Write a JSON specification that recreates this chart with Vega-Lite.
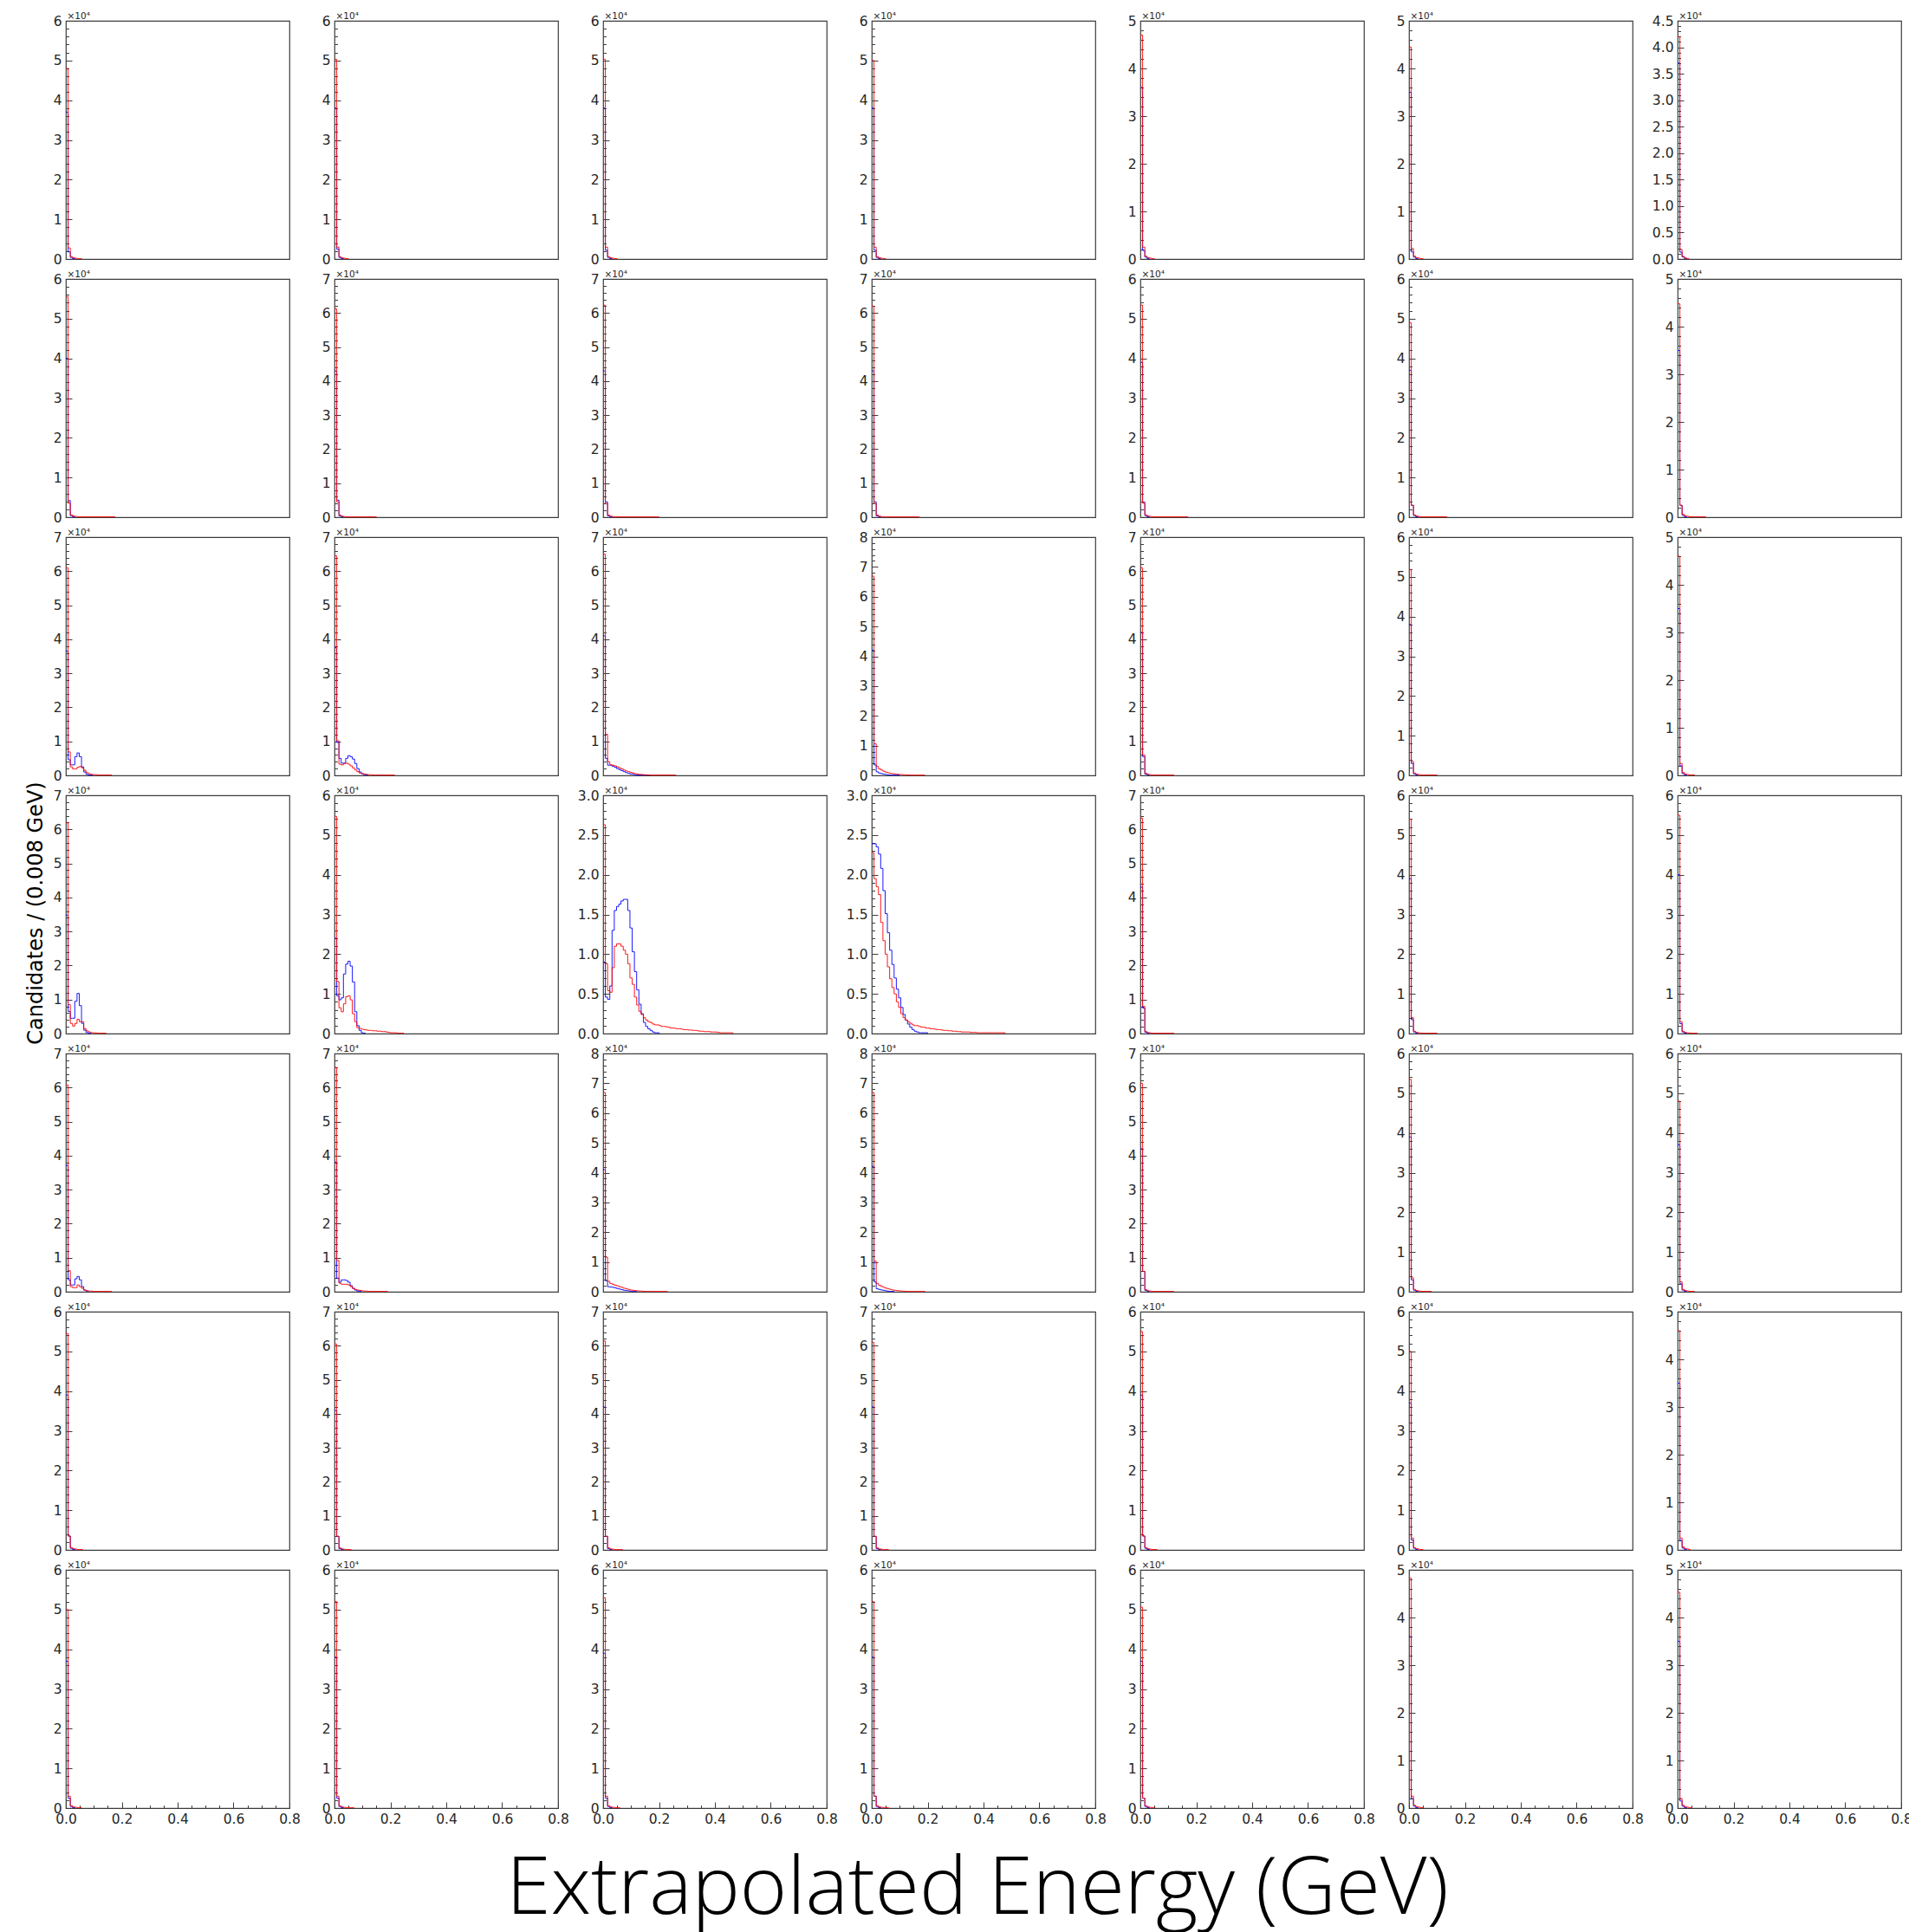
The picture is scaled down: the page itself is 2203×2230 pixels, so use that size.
{
"$schema":"https://vega.github.io/schema/vega-lite/v6.json",
"background":"white",
"padding":{"left":29,"top":12,"right":5,"bottom":5},
"data":{"values":[
{"r":1,"c":1,"s":"m","x":0,"y":6},
{"r":1,"c":1,"s":"b","x":0,"y":3.7},{"r":1,"c":1,"s":"b","x":0.008,"y":0.18},{"r":1,"c":1,"s":"b","x":0.016,"y":0.04},{"r":1,"c":1,"s":"b","x":0.024,"y":0.01},{"r":1,"c":1,"s":"b","x":0.032,"y":0},
{"r":1,"c":1,"s":"r","x":0,"y":4.8},{"r":1,"c":1,"s":"r","x":0.008,"y":0.28},{"r":1,"c":1,"s":"r","x":0.016,"y":0.06},{"r":1,"c":1,"s":"r","x":0.024,"y":0.03},{"r":1,"c":1,"s":"r","x":0.032,"y":0.02},{"r":1,"c":1,"s":"r","x":0.04,"y":0.01},{"r":1,"c":1,"s":"r","x":0.056,"y":0},
{"r":1,"c":2,"s":"m","x":0,"y":6},
{"r":1,"c":2,"s":"b","x":0,"y":3.8},{"r":1,"c":2,"s":"b","x":0.008,"y":0.25},{"r":1,"c":2,"s":"b","x":0.016,"y":0.04},{"r":1,"c":2,"s":"b","x":0.024,"y":0.01},{"r":1,"c":2,"s":"b","x":0.032,"y":0},
{"r":1,"c":2,"s":"r","x":0,"y":5.03},{"r":1,"c":2,"s":"r","x":0.008,"y":0.3},{"r":1,"c":2,"s":"r","x":0.016,"y":0.06},{"r":1,"c":2,"s":"r","x":0.024,"y":0.03},{"r":1,"c":2,"s":"r","x":0.032,"y":0.02},{"r":1,"c":2,"s":"r","x":0.04,"y":0.01},{"r":1,"c":2,"s":"r","x":0.05,"y":0},
{"r":1,"c":3,"s":"m","x":0,"y":6},
{"r":1,"c":3,"s":"b","x":0,"y":3.8},{"r":1,"c":3,"s":"b","x":0.008,"y":0.22},{"r":1,"c":3,"s":"b","x":0.016,"y":0.04},{"r":1,"c":3,"s":"b","x":0.024,"y":0.01},{"r":1,"c":3,"s":"b","x":0.032,"y":0},
{"r":1,"c":3,"s":"r","x":0,"y":5.03},{"r":1,"c":3,"s":"r","x":0.008,"y":0.3},{"r":1,"c":3,"s":"r","x":0.016,"y":0.06},{"r":1,"c":3,"s":"r","x":0.024,"y":0.03},{"r":1,"c":3,"s":"r","x":0.032,"y":0.02},{"r":1,"c":3,"s":"r","x":0.04,"y":0.01},{"r":1,"c":3,"s":"r","x":0.05,"y":0},
{"r":1,"c":4,"s":"m","x":0,"y":6},
{"r":1,"c":4,"s":"b","x":0,"y":3.8},{"r":1,"c":4,"s":"b","x":0.008,"y":0.22},{"r":1,"c":4,"s":"b","x":0.016,"y":0.04},{"r":1,"c":4,"s":"b","x":0.024,"y":0.01},{"r":1,"c":4,"s":"b","x":0.032,"y":0},
{"r":1,"c":4,"s":"r","x":0,"y":5.0},{"r":1,"c":4,"s":"r","x":0.008,"y":0.3},{"r":1,"c":4,"s":"r","x":0.016,"y":0.06},{"r":1,"c":4,"s":"r","x":0.024,"y":0.03},{"r":1,"c":4,"s":"r","x":0.032,"y":0.02},{"r":1,"c":4,"s":"r","x":0.04,"y":0.01},{"r":1,"c":4,"s":"r","x":0.05,"y":0},
{"r":1,"c":5,"s":"m","x":0,"y":5},
{"r":1,"c":5,"s":"b","x":0,"y":3.6},{"r":1,"c":5,"s":"b","x":0.008,"y":0.18},{"r":1,"c":5,"s":"b","x":0.016,"y":0.04},{"r":1,"c":5,"s":"b","x":0.024,"y":0.01},{"r":1,"c":5,"s":"b","x":0.032,"y":0},
{"r":1,"c":5,"s":"r","x":0,"y":4.7},{"r":1,"c":5,"s":"r","x":0.008,"y":0.25},{"r":1,"c":5,"s":"r","x":0.016,"y":0.06},{"r":1,"c":5,"s":"r","x":0.024,"y":0.03},{"r":1,"c":5,"s":"r","x":0.032,"y":0.02},{"r":1,"c":5,"s":"r","x":0.04,"y":0.01},{"r":1,"c":5,"s":"r","x":0.05,"y":0},
{"r":1,"c":6,"s":"m","x":0,"y":5},
{"r":1,"c":6,"s":"b","x":0,"y":3.5},{"r":1,"c":6,"s":"b","x":0.008,"y":0.15},{"r":1,"c":6,"s":"b","x":0.016,"y":0.04},{"r":1,"c":6,"s":"b","x":0.024,"y":0.01},{"r":1,"c":6,"s":"b","x":0.032,"y":0},
{"r":1,"c":6,"s":"r","x":0,"y":4.45},{"r":1,"c":6,"s":"r","x":0.008,"y":0.22},{"r":1,"c":6,"s":"r","x":0.016,"y":0.06},{"r":1,"c":6,"s":"r","x":0.024,"y":0.03},{"r":1,"c":6,"s":"r","x":0.032,"y":0.02},{"r":1,"c":6,"s":"r","x":0.04,"y":0.01},{"r":1,"c":6,"s":"r","x":0.05,"y":0},
{"r":1,"c":7,"s":"m","x":0,"y":4.5},
{"r":1,"c":7,"s":"b","x":0,"y":3.7},{"r":1,"c":7,"s":"b","x":0.008,"y":0.13},{"r":1,"c":7,"s":"b","x":0.016,"y":0.04},{"r":1,"c":7,"s":"b","x":0.024,"y":0.01},{"r":1,"c":7,"s":"b","x":0.032,"y":0},
{"r":1,"c":7,"s":"r","x":0,"y":4.2},{"r":1,"c":7,"s":"r","x":0.008,"y":0.18},{"r":1,"c":7,"s":"r","x":0.016,"y":0.05},{"r":1,"c":7,"s":"r","x":0.024,"y":0.02},{"r":1,"c":7,"s":"r","x":0.032,"y":0.01},{"r":1,"c":7,"s":"r","x":0.04,"y":0},
{"r":2,"c":1,"s":"m","x":0,"y":6},
{"r":2,"c":1,"s":"b","x":0,"y":4.0},{"r":2,"c":1,"s":"b","x":0.008,"y":0.42},{"r":2,"c":1,"s":"b","x":0.016,"y":0.04},{"r":2,"c":1,"s":"b","x":0.024,"y":0.01},{"r":2,"c":1,"s":"b","x":0.032,"y":0},
{"r":2,"c":1,"s":"r","x":0,"y":5.56},{"r":2,"c":1,"s":"r","x":0.008,"y":0.35},{"r":2,"c":1,"s":"r","x":0.016,"y":0.06},{"r":2,"c":1,"s":"r","x":0.024,"y":0.03},{"r":2,"c":1,"s":"r","x":0.032,"y":0.02},{"r":2,"c":1,"s":"r","x":0.04,"y":0.01},{"r":2,"c":1,"s":"r","x":0.176,"y":0},
{"r":2,"c":2,"s":"m","x":0,"y":7},
{"r":2,"c":2,"s":"b","x":0,"y":4.3},{"r":2,"c":2,"s":"b","x":0.008,"y":0.5},{"r":2,"c":2,"s":"b","x":0.016,"y":0.04},{"r":2,"c":2,"s":"b","x":0.024,"y":0.01},{"r":2,"c":2,"s":"b","x":0.032,"y":0},
{"r":2,"c":2,"s":"r","x":0,"y":6.12},{"r":2,"c":2,"s":"r","x":0.008,"y":0.45},{"r":2,"c":2,"s":"r","x":0.016,"y":0.06},{"r":2,"c":2,"s":"r","x":0.024,"y":0.03},{"r":2,"c":2,"s":"r","x":0.032,"y":0.02},{"r":2,"c":2,"s":"r","x":0.04,"y":0.01},{"r":2,"c":2,"s":"r","x":0.15,"y":0},
{"r":2,"c":3,"s":"m","x":0,"y":7},
{"r":2,"c":3,"s":"b","x":0,"y":4.3},{"r":2,"c":3,"s":"b","x":0.008,"y":0.45},{"r":2,"c":3,"s":"b","x":0.016,"y":0.04},{"r":2,"c":3,"s":"b","x":0.024,"y":0.01},{"r":2,"c":3,"s":"b","x":0.032,"y":0},
{"r":2,"c":3,"s":"r","x":0,"y":6.23},{"r":2,"c":3,"s":"r","x":0.008,"y":0.4},{"r":2,"c":3,"s":"r","x":0.016,"y":0.06},{"r":2,"c":3,"s":"r","x":0.024,"y":0.03},{"r":2,"c":3,"s":"r","x":0.032,"y":0.02},{"r":2,"c":3,"s":"r","x":0.04,"y":0.01},{"r":2,"c":3,"s":"r","x":0.2,"y":0},
{"r":2,"c":4,"s":"m","x":0,"y":7},
{"r":2,"c":4,"s":"b","x":0,"y":4.3},{"r":2,"c":4,"s":"b","x":0.008,"y":0.45},{"r":2,"c":4,"s":"b","x":0.016,"y":0.04},{"r":2,"c":4,"s":"b","x":0.024,"y":0.01},{"r":2,"c":4,"s":"b","x":0.032,"y":0},
{"r":2,"c":4,"s":"r","x":0,"y":6.2},{"r":2,"c":4,"s":"r","x":0.008,"y":0.4},{"r":2,"c":4,"s":"r","x":0.016,"y":0.06},{"r":2,"c":4,"s":"r","x":0.024,"y":0.03},{"r":2,"c":4,"s":"r","x":0.032,"y":0.02},{"r":2,"c":4,"s":"r","x":0.04,"y":0.01},{"r":2,"c":4,"s":"r","x":0.17,"y":0},
{"r":2,"c":5,"s":"m","x":0,"y":6},
{"r":2,"c":5,"s":"b","x":0,"y":3.9},{"r":2,"c":5,"s":"b","x":0.008,"y":0.38},{"r":2,"c":5,"s":"b","x":0.016,"y":0.04},{"r":2,"c":5,"s":"b","x":0.024,"y":0.01},{"r":2,"c":5,"s":"b","x":0.032,"y":0},
{"r":2,"c":5,"s":"r","x":0,"y":5.34},{"r":2,"c":5,"s":"r","x":0.008,"y":0.35},{"r":2,"c":5,"s":"r","x":0.016,"y":0.06},{"r":2,"c":5,"s":"r","x":0.024,"y":0.03},{"r":2,"c":5,"s":"r","x":0.032,"y":0.02},{"r":2,"c":5,"s":"r","x":0.04,"y":0.01},{"r":2,"c":5,"s":"r","x":0.17,"y":0},
{"r":2,"c":6,"s":"m","x":0,"y":6},
{"r":2,"c":6,"s":"b","x":0,"y":3.7},{"r":2,"c":6,"s":"b","x":0.008,"y":0.3},{"r":2,"c":6,"s":"b","x":0.016,"y":0.04},{"r":2,"c":6,"s":"b","x":0.024,"y":0.01},{"r":2,"c":6,"s":"b","x":0.032,"y":0},
{"r":2,"c":6,"s":"r","x":0,"y":4.9},{"r":2,"c":6,"s":"r","x":0.008,"y":0.3},{"r":2,"c":6,"s":"r","x":0.016,"y":0.06},{"r":2,"c":6,"s":"r","x":0.024,"y":0.03},{"r":2,"c":6,"s":"r","x":0.032,"y":0.02},{"r":2,"c":6,"s":"r","x":0.04,"y":0.01},{"r":2,"c":6,"s":"r","x":0.136,"y":0},
{"r":2,"c":7,"s":"m","x":0,"y":5},
{"r":2,"c":7,"s":"b","x":0,"y":3.5},{"r":2,"c":7,"s":"b","x":0.008,"y":0.25},{"r":2,"c":7,"s":"b","x":0.016,"y":0.04},{"r":2,"c":7,"s":"b","x":0.024,"y":0.01},{"r":2,"c":7,"s":"b","x":0.032,"y":0},
{"r":2,"c":7,"s":"r","x":0,"y":4.48},{"r":2,"c":7,"s":"r","x":0.008,"y":0.25},{"r":2,"c":7,"s":"r","x":0.016,"y":0.06},{"r":2,"c":7,"s":"r","x":0.024,"y":0.03},{"r":2,"c":7,"s":"r","x":0.032,"y":0.02},{"r":2,"c":7,"s":"r","x":0.04,"y":0.01},{"r":2,"c":7,"s":"r","x":0.1,"y":0},
{"r":3,"c":1,"s":"m","x":0,"y":7},
{"r":3,"c":1,"s":"b","x":0,"y":3.65},{"r":3,"c":1,"s":"b","x":0.008,"y":0.46},{"r":3,"c":1,"s":"b","x":0.016,"y":0.31},{"r":3,"c":1,"s":"b","x":0.024,"y":0.31},{"r":3,"c":1,"s":"b","x":0.032,"y":0.55},{"r":3,"c":1,"s":"b","x":0.04,"y":0.66},{"r":3,"c":1,"s":"b","x":0.048,"y":0.55},{"r":3,"c":1,"s":"b","x":0.056,"y":0.25},{"r":3,"c":1,"s":"b","x":0.064,"y":0.1},{"r":3,"c":1,"s":"b","x":0.072,"y":0.03},{"r":3,"c":1,"s":"b","x":0.08,"y":0.01},{"r":3,"c":1,"s":"b","x":0.096,"y":0},
{"r":3,"c":1,"s":"r","x":0,"y":6.1},{"r":3,"c":1,"s":"r","x":0.008,"y":0.69},{"r":3,"c":1,"s":"r","x":0.016,"y":0.25},{"r":3,"c":1,"s":"r","x":0.024,"y":0.19},{"r":3,"c":1,"s":"r","x":0.032,"y":0.19},{"r":3,"c":1,"s":"r","x":0.04,"y":0.24},{"r":3,"c":1,"s":"r","x":0.048,"y":0.26},{"r":3,"c":1,"s":"r","x":0.056,"y":0.22},{"r":3,"c":1,"s":"r","x":0.064,"y":0.15},{"r":3,"c":1,"s":"r","x":0.072,"y":0.08},{"r":3,"c":1,"s":"r","x":0.08,"y":0.05},{"r":3,"c":1,"s":"r","x":0.088,"y":0.03},{"r":3,"c":1,"s":"r","x":0.096,"y":0.02},{"r":3,"c":1,"s":"r","x":0.104,"y":0.02},{"r":3,"c":1,"s":"r","x":0.112,"y":0.01},{"r":3,"c":1,"s":"r","x":0.164,"y":0},
{"r":3,"c":2,"s":"m","x":0,"y":7},
{"r":3,"c":2,"s":"b","x":0,"y":3.75},{"r":3,"c":2,"s":"b","x":0.008,"y":0.97},{"r":3,"c":2,"s":"b","x":0.016,"y":0.5},{"r":3,"c":2,"s":"b","x":0.024,"y":0.36},{"r":3,"c":2,"s":"b","x":0.032,"y":0.36},{"r":3,"c":2,"s":"b","x":0.04,"y":0.5},{"r":3,"c":2,"s":"b","x":0.048,"y":0.58},{"r":3,"c":2,"s":"b","x":0.056,"y":0.55},{"r":3,"c":2,"s":"b","x":0.064,"y":0.48},{"r":3,"c":2,"s":"b","x":0.072,"y":0.35},{"r":3,"c":2,"s":"b","x":0.08,"y":0.2},{"r":3,"c":2,"s":"b","x":0.088,"y":0.1},{"r":3,"c":2,"s":"b","x":0.096,"y":0.05},{"r":3,"c":2,"s":"b","x":0.104,"y":0.02},{"r":3,"c":2,"s":"b","x":0.112,"y":0.01},{"r":3,"c":2,"s":"b","x":0.12,"y":0},
{"r":3,"c":2,"s":"r","x":0,"y":6.45},{"r":3,"c":2,"s":"r","x":0.008,"y":1.02},{"r":3,"c":2,"s":"r","x":0.016,"y":0.33},{"r":3,"c":2,"s":"r","x":0.024,"y":0.31},{"r":3,"c":2,"s":"r","x":0.032,"y":0.35},{"r":3,"c":2,"s":"r","x":0.04,"y":0.36},{"r":3,"c":2,"s":"r","x":0.048,"y":0.33},{"r":3,"c":2,"s":"r","x":0.056,"y":0.28},{"r":3,"c":2,"s":"r","x":0.064,"y":0.22},{"r":3,"c":2,"s":"r","x":0.072,"y":0.16},{"r":3,"c":2,"s":"r","x":0.08,"y":0.11},{"r":3,"c":2,"s":"r","x":0.088,"y":0.07},{"r":3,"c":2,"s":"r","x":0.096,"y":0.05},{"r":3,"c":2,"s":"r","x":0.104,"y":0.04},{"r":3,"c":2,"s":"r","x":0.112,"y":0.03},{"r":3,"c":2,"s":"r","x":0.12,"y":0.02},{"r":3,"c":2,"s":"r","x":0.128,"y":0.02},{"r":3,"c":2,"s":"r","x":0.136,"y":0.015},{"r":3,"c":2,"s":"r","x":0.144,"y":0.01},{"r":3,"c":2,"s":"r","x":0.215,"y":0},
{"r":3,"c":3,"s":"m","x":0,"y":7},
{"r":3,"c":3,"s":"b","x":0,"y":4.1},{"r":3,"c":3,"s":"b","x":0.008,"y":0.5},{"r":3,"c":3,"s":"b","x":0.016,"y":0.3},{"r":3,"c":3,"s":"b","x":0.024,"y":0.3},{"r":3,"c":3,"s":"b","x":0.032,"y":0.27},{"r":3,"c":3,"s":"b","x":0.04,"y":0.24},{"r":3,"c":3,"s":"b","x":0.048,"y":0.2},{"r":3,"c":3,"s":"b","x":0.056,"y":0.17},{"r":3,"c":3,"s":"b","x":0.064,"y":0.14},{"r":3,"c":3,"s":"b","x":0.072,"y":0.11},{"r":3,"c":3,"s":"b","x":0.08,"y":0.08},{"r":3,"c":3,"s":"b","x":0.088,"y":0.06},{"r":3,"c":3,"s":"b","x":0.096,"y":0.04},{"r":3,"c":3,"s":"b","x":0.104,"y":0.03},{"r":3,"c":3,"s":"b","x":0.112,"y":0.02},{"r":3,"c":3,"s":"b","x":0.12,"y":0.01},{"r":3,"c":3,"s":"b","x":0.17,"y":0},
{"r":3,"c":3,"s":"r","x":0,"y":6.5},{"r":3,"c":3,"s":"r","x":0.008,"y":1.21},{"r":3,"c":3,"s":"r","x":0.016,"y":0.4},{"r":3,"c":3,"s":"r","x":0.024,"y":0.31},{"r":3,"c":3,"s":"r","x":0.032,"y":0.3},{"r":3,"c":3,"s":"r","x":0.04,"y":0.28},{"r":3,"c":3,"s":"r","x":0.048,"y":0.25},{"r":3,"c":3,"s":"r","x":0.056,"y":0.22},{"r":3,"c":3,"s":"r","x":0.064,"y":0.19},{"r":3,"c":3,"s":"r","x":0.072,"y":0.16},{"r":3,"c":3,"s":"r","x":0.08,"y":0.13},{"r":3,"c":3,"s":"r","x":0.088,"y":0.11},{"r":3,"c":3,"s":"r","x":0.096,"y":0.09},{"r":3,"c":3,"s":"r","x":0.104,"y":0.07},{"r":3,"c":3,"s":"r","x":0.112,"y":0.05},{"r":3,"c":3,"s":"r","x":0.12,"y":0.04},{"r":3,"c":3,"s":"r","x":0.128,"y":0.03},{"r":3,"c":3,"s":"r","x":0.136,"y":0.025},{"r":3,"c":3,"s":"r","x":0.144,"y":0.02},{"r":3,"c":3,"s":"r","x":0.152,"y":0.015},{"r":3,"c":3,"s":"r","x":0.16,"y":0.01},{"r":3,"c":3,"s":"r","x":0.26,"y":0},
{"r":3,"c":4,"s":"m","x":0,"y":8},
{"r":3,"c":4,"s":"b","x":0,"y":4.2},{"r":3,"c":4,"s":"b","x":0.008,"y":0.35},{"r":3,"c":4,"s":"b","x":0.016,"y":0.12},{"r":3,"c":4,"s":"b","x":0.024,"y":0.08},{"r":3,"c":4,"s":"b","x":0.032,"y":0.06},{"r":3,"c":4,"s":"b","x":0.04,"y":0.04},{"r":3,"c":4,"s":"b","x":0.048,"y":0.03},{"r":3,"c":4,"s":"b","x":0.056,"y":0.02},{"r":3,"c":4,"s":"b","x":0.064,"y":0.01},{"r":3,"c":4,"s":"b","x":0.1,"y":0},
{"r":3,"c":4,"s":"r","x":0,"y":6.69},{"r":3,"c":4,"s":"r","x":0.008,"y":1.06},{"r":3,"c":4,"s":"r","x":0.016,"y":0.3},{"r":3,"c":4,"s":"r","x":0.024,"y":0.22},{"r":3,"c":4,"s":"r","x":0.032,"y":0.18},{"r":3,"c":4,"s":"r","x":0.04,"y":0.14},{"r":3,"c":4,"s":"r","x":0.048,"y":0.11},{"r":3,"c":4,"s":"r","x":0.056,"y":0.09},{"r":3,"c":4,"s":"r","x":0.064,"y":0.07},{"r":3,"c":4,"s":"r","x":0.072,"y":0.06},{"r":3,"c":4,"s":"r","x":0.08,"y":0.05},{"r":3,"c":4,"s":"r","x":0.088,"y":0.04},{"r":3,"c":4,"s":"r","x":0.096,"y":0.03},{"r":3,"c":4,"s":"r","x":0.104,"y":0.03},{"r":3,"c":4,"s":"r","x":0.112,"y":0.02},{"r":3,"c":4,"s":"r","x":0.12,"y":0.02},{"r":3,"c":4,"s":"r","x":0.128,"y":0.015},{"r":3,"c":4,"s":"r","x":0.136,"y":0.01},{"r":3,"c":4,"s":"r","x":0.19,"y":0},
{"r":3,"c":5,"s":"m","x":0,"y":7},
{"r":3,"c":5,"s":"b","x":0,"y":4.2},{"r":3,"c":5,"s":"b","x":0.008,"y":0.55},{"r":3,"c":5,"s":"b","x":0.016,"y":0.04},{"r":3,"c":5,"s":"b","x":0.024,"y":0.01},{"r":3,"c":5,"s":"b","x":0.032,"y":0},
{"r":3,"c":5,"s":"r","x":0,"y":6.1},{"r":3,"c":5,"s":"r","x":0.008,"y":0.6},{"r":3,"c":5,"s":"r","x":0.016,"y":0.06},{"r":3,"c":5,"s":"r","x":0.024,"y":0.03},{"r":3,"c":5,"s":"r","x":0.032,"y":0.02},{"r":3,"c":5,"s":"r","x":0.04,"y":0.01},{"r":3,"c":5,"s":"r","x":0.12,"y":0},
{"r":3,"c":6,"s":"m","x":0,"y":6},
{"r":3,"c":6,"s":"b","x":0,"y":3.8},{"r":3,"c":6,"s":"b","x":0.008,"y":0.3},{"r":3,"c":6,"s":"b","x":0.016,"y":0.04},{"r":3,"c":6,"s":"b","x":0.024,"y":0.01},{"r":3,"c":6,"s":"b","x":0.032,"y":0},
{"r":3,"c":6,"s":"r","x":0,"y":5.18},{"r":3,"c":6,"s":"r","x":0.008,"y":0.35},{"r":3,"c":6,"s":"r","x":0.016,"y":0.06},{"r":3,"c":6,"s":"r","x":0.024,"y":0.03},{"r":3,"c":6,"s":"r","x":0.032,"y":0.02},{"r":3,"c":6,"s":"r","x":0.04,"y":0.01},{"r":3,"c":6,"s":"r","x":0.1,"y":0},
{"r":3,"c":7,"s":"m","x":0,"y":5},
{"r":3,"c":7,"s":"b","x":0,"y":3.5},{"r":3,"c":7,"s":"b","x":0.008,"y":0.2},{"r":3,"c":7,"s":"b","x":0.016,"y":0.04},{"r":3,"c":7,"s":"b","x":0.024,"y":0.01},{"r":3,"c":7,"s":"b","x":0.032,"y":0},
{"r":3,"c":7,"s":"r","x":0,"y":4.6},{"r":3,"c":7,"s":"r","x":0.008,"y":0.25},{"r":3,"c":7,"s":"r","x":0.016,"y":0.06},{"r":3,"c":7,"s":"r","x":0.024,"y":0.03},{"r":3,"c":7,"s":"r","x":0.032,"y":0.02},{"r":3,"c":7,"s":"r","x":0.04,"y":0.01},{"r":3,"c":7,"s":"r","x":0.06,"y":0},
{"r":4,"c":1,"s":"m","x":0,"y":7},
{"r":4,"c":1,"s":"b","x":0,"y":3.48},{"r":4,"c":1,"s":"b","x":0.008,"y":0.65},{"r":4,"c":1,"s":"b","x":0.016,"y":0.45},{"r":4,"c":1,"s":"b","x":0.024,"y":0.45},{"r":4,"c":1,"s":"b","x":0.032,"y":0.95},{"r":4,"c":1,"s":"b","x":0.04,"y":1.18},{"r":4,"c":1,"s":"b","x":0.048,"y":0.82},{"r":4,"c":1,"s":"b","x":0.056,"y":0.3},{"r":4,"c":1,"s":"b","x":0.064,"y":0.1},{"r":4,"c":1,"s":"b","x":0.072,"y":0.03},{"r":4,"c":1,"s":"b","x":0.08,"y":0.01},{"r":4,"c":1,"s":"b","x":0.09,"y":0},
{"r":4,"c":1,"s":"r","x":0,"y":6.19},{"r":4,"c":1,"s":"r","x":0.008,"y":0.85},{"r":4,"c":1,"s":"r","x":0.016,"y":0.3},{"r":4,"c":1,"s":"r","x":0.024,"y":0.22},{"r":4,"c":1,"s":"r","x":0.032,"y":0.3},{"r":4,"c":1,"s":"r","x":0.04,"y":0.42},{"r":4,"c":1,"s":"r","x":0.048,"y":0.35},{"r":4,"c":1,"s":"r","x":0.056,"y":0.35},{"r":4,"c":1,"s":"r","x":0.064,"y":0.15},{"r":4,"c":1,"s":"r","x":0.072,"y":0.08},{"r":4,"c":1,"s":"r","x":0.08,"y":0.05},{"r":4,"c":1,"s":"r","x":0.088,"y":0.03},{"r":4,"c":1,"s":"r","x":0.096,"y":0.02},{"r":4,"c":1,"s":"r","x":0.104,"y":0.02},{"r":4,"c":1,"s":"r","x":0.112,"y":0.01},{"r":4,"c":1,"s":"r","x":0.144,"y":0},
{"r":4,"c":2,"s":"m","x":0,"y":6},
{"r":4,"c":2,"s":"b","x":0,"y":2.4},{"r":4,"c":2,"s":"b","x":0.008,"y":0.95},{"r":4,"c":2,"s":"b","x":0.016,"y":0.85},{"r":4,"c":2,"s":"b","x":0.024,"y":0.9},{"r":4,"c":2,"s":"b","x":0.032,"y":1.5},{"r":4,"c":2,"s":"b","x":0.04,"y":1.75},{"r":4,"c":2,"s":"b","x":0.048,"y":1.82},{"r":4,"c":2,"s":"b","x":0.056,"y":1.7},{"r":4,"c":2,"s":"b","x":0.064,"y":1.3},{"r":4,"c":2,"s":"b","x":0.072,"y":0.55},{"r":4,"c":2,"s":"b","x":0.08,"y":0.2},{"r":4,"c":2,"s":"b","x":0.088,"y":0.08},{"r":4,"c":2,"s":"b","x":0.096,"y":0.02},{"r":4,"c":2,"s":"b","x":0.104,"y":0.01},{"r":4,"c":2,"s":"b","x":0.11,"y":0},
{"r":4,"c":2,"s":"r","x":0,"y":5.47},{"r":4,"c":2,"s":"r","x":0.008,"y":1.31},{"r":4,"c":2,"s":"r","x":0.016,"y":0.65},{"r":4,"c":2,"s":"r","x":0.024,"y":0.55},{"r":4,"c":2,"s":"r","x":0.032,"y":0.75},{"r":4,"c":2,"s":"r","x":0.04,"y":0.93},{"r":4,"c":2,"s":"r","x":0.048,"y":0.95},{"r":4,"c":2,"s":"r","x":0.056,"y":0.85},{"r":4,"c":2,"s":"r","x":0.064,"y":0.5},{"r":4,"c":2,"s":"r","x":0.072,"y":0.3},{"r":4,"c":2,"s":"r","x":0.08,"y":0.15},{"r":4,"c":2,"s":"r","x":0.088,"y":0.13},{"r":4,"c":2,"s":"r","x":0.096,"y":0.11},{"r":4,"c":2,"s":"r","x":0.104,"y":0.1},{"r":4,"c":2,"s":"r","x":0.112,"y":0.09},{"r":4,"c":2,"s":"r","x":0.12,"y":0.08},{"r":4,"c":2,"s":"r","x":0.128,"y":0.08},{"r":4,"c":2,"s":"r","x":0.136,"y":0.07},{"r":4,"c":2,"s":"r","x":0.144,"y":0.07},{"r":4,"c":2,"s":"r","x":0.152,"y":0.06},{"r":4,"c":2,"s":"r","x":0.16,"y":0.06},{"r":4,"c":2,"s":"r","x":0.168,"y":0.05},{"r":4,"c":2,"s":"r","x":0.176,"y":0.05},{"r":4,"c":2,"s":"r","x":0.184,"y":0.04},{"r":4,"c":2,"s":"r","x":0.192,"y":0.03},{"r":4,"c":2,"s":"r","x":0.2,"y":0.02},{"r":4,"c":2,"s":"r","x":0.208,"y":0.02},{"r":4,"c":2,"s":"r","x":0.216,"y":0.02},{"r":4,"c":2,"s":"r","x":0.224,"y":0.01},{"r":4,"c":2,"s":"r","x":0.232,"y":0.01},{"r":4,"c":2,"s":"r","x":0.24,"y":0.01},{"r":4,"c":2,"s":"r","x":0.248,"y":0},
{"r":4,"c":3,"s":"m","x":0,"y":3},
{"r":4,"c":3,"s":"b","x":0,"y":0.9},{"r":4,"c":3,"s":"b","x":0.008,"y":0.46},{"r":4,"c":3,"s":"b","x":0.016,"y":0.43},{"r":4,"c":3,"s":"b","x":0.024,"y":0.6},{"r":4,"c":3,"s":"b","x":0.032,"y":1.3},{"r":4,"c":3,"s":"b","x":0.04,"y":1.55},{"r":4,"c":3,"s":"b","x":0.048,"y":1.6},{"r":4,"c":3,"s":"b","x":0.056,"y":1.63},{"r":4,"c":3,"s":"b","x":0.064,"y":1.67},{"r":4,"c":3,"s":"b","x":0.072,"y":1.69},{"r":4,"c":3,"s":"b","x":0.08,"y":1.69},{"r":4,"c":3,"s":"b","x":0.088,"y":1.55},{"r":4,"c":3,"s":"b","x":0.096,"y":1.33},{"r":4,"c":3,"s":"b","x":0.104,"y":1.03},{"r":4,"c":3,"s":"b","x":0.112,"y":0.78},{"r":4,"c":3,"s":"b","x":0.12,"y":0.55},{"r":4,"c":3,"s":"b","x":0.128,"y":0.37},{"r":4,"c":3,"s":"b","x":0.136,"y":0.25},{"r":4,"c":3,"s":"b","x":0.144,"y":0.14},{"r":4,"c":3,"s":"b","x":0.152,"y":0.09},{"r":4,"c":3,"s":"b","x":0.16,"y":0.06},{"r":4,"c":3,"s":"b","x":0.168,"y":0.04},{"r":4,"c":3,"s":"b","x":0.176,"y":0.02},{"r":4,"c":3,"s":"b","x":0.184,"y":0.01},{"r":4,"c":3,"s":"b","x":0.192,"y":0.01},{"r":4,"c":3,"s":"b","x":0.2,"y":0},
{"r":4,"c":3,"s":"r","x":0,"y":2.63},{"r":4,"c":3,"s":"r","x":0.008,"y":0.88},{"r":4,"c":3,"s":"r","x":0.016,"y":0.54},{"r":4,"c":3,"s":"r","x":0.024,"y":0.52},{"r":4,"c":3,"s":"r","x":0.032,"y":0.83},{"r":4,"c":3,"s":"r","x":0.04,"y":1.1},{"r":4,"c":3,"s":"r","x":0.048,"y":1.13},{"r":4,"c":3,"s":"r","x":0.056,"y":1.13},{"r":4,"c":3,"s":"r","x":0.064,"y":1.1},{"r":4,"c":3,"s":"r","x":0.072,"y":1.05},{"r":4,"c":3,"s":"r","x":0.08,"y":1.0},{"r":4,"c":3,"s":"r","x":0.088,"y":0.88},{"r":4,"c":3,"s":"r","x":0.096,"y":0.7},{"r":4,"c":3,"s":"r","x":0.104,"y":0.62},{"r":4,"c":3,"s":"r","x":0.112,"y":0.46},{"r":4,"c":3,"s":"r","x":0.12,"y":0.36},{"r":4,"c":3,"s":"r","x":0.128,"y":0.28},{"r":4,"c":3,"s":"r","x":0.136,"y":0.24},{"r":4,"c":3,"s":"r","x":0.144,"y":0.2},{"r":4,"c":3,"s":"r","x":0.152,"y":0.17},{"r":4,"c":3,"s":"r","x":0.16,"y":0.15},{"r":4,"c":3,"s":"r","x":0.168,"y":0.14},{"r":4,"c":3,"s":"r","x":0.176,"y":0.12},{"r":4,"c":3,"s":"r","x":0.184,"y":0.11},{"r":4,"c":3,"s":"r","x":0.192,"y":0.11},{"r":4,"c":3,"s":"r","x":0.2,"y":0.1},{"r":4,"c":3,"s":"r","x":0.208,"y":0.09},{"r":4,"c":3,"s":"r","x":0.216,"y":0.09},{"r":4,"c":3,"s":"r","x":0.224,"y":0.085},{"r":4,"c":3,"s":"r","x":0.232,"y":0.08},{"r":4,"c":3,"s":"r","x":0.24,"y":0.07},{"r":4,"c":3,"s":"r","x":0.248,"y":0.07},{"r":4,"c":3,"s":"r","x":0.256,"y":0.065},{"r":4,"c":3,"s":"r","x":0.264,"y":0.06},{"r":4,"c":3,"s":"r","x":0.272,"y":0.06},{"r":4,"c":3,"s":"r","x":0.28,"y":0.055},{"r":4,"c":3,"s":"r","x":0.288,"y":0.05},{"r":4,"c":3,"s":"r","x":0.296,"y":0.05},{"r":4,"c":3,"s":"r","x":0.304,"y":0.045},{"r":4,"c":3,"s":"r","x":0.312,"y":0.045},{"r":4,"c":3,"s":"r","x":0.32,"y":0.04},{"r":4,"c":3,"s":"r","x":0.328,"y":0.04},{"r":4,"c":3,"s":"r","x":0.336,"y":0.035},{"r":4,"c":3,"s":"r","x":0.344,"y":0.03},{"r":4,"c":3,"s":"r","x":0.352,"y":0.03},{"r":4,"c":3,"s":"r","x":0.36,"y":0.025},{"r":4,"c":3,"s":"r","x":0.368,"y":0.025},{"r":4,"c":3,"s":"r","x":0.376,"y":0.025},{"r":4,"c":3,"s":"r","x":0.384,"y":0.02},{"r":4,"c":3,"s":"r","x":0.392,"y":0.02},{"r":4,"c":3,"s":"r","x":0.4,"y":0.02},{"r":4,"c":3,"s":"r","x":0.408,"y":0.015},{"r":4,"c":3,"s":"r","x":0.416,"y":0.01},{"r":4,"c":3,"s":"r","x":0.424,"y":0.01},{"r":4,"c":3,"s":"r","x":0.432,"y":0.01},{"r":4,"c":3,"s":"r","x":0.44,"y":0.01},{"r":4,"c":3,"s":"r","x":0.448,"y":0.01},{"r":4,"c":3,"s":"r","x":0.456,"y":0.01},{"r":4,"c":3,"s":"r","x":0.464,"y":0},
{"r":4,"c":4,"s":"m","x":0,"y":3},
{"r":4,"c":4,"s":"b","x":0,"y":2.39},{"r":4,"c":4,"s":"b","x":0.008,"y":2.39},{"r":4,"c":4,"s":"b","x":0.016,"y":2.35},{"r":4,"c":4,"s":"b","x":0.024,"y":2.26},{"r":4,"c":4,"s":"b","x":0.032,"y":2.08},{"r":4,"c":4,"s":"b","x":0.04,"y":1.8},{"r":4,"c":4,"s":"b","x":0.048,"y":1.51},{"r":4,"c":4,"s":"b","x":0.056,"y":1.27},{"r":4,"c":4,"s":"b","x":0.064,"y":1.05},{"r":4,"c":4,"s":"b","x":0.072,"y":0.87},{"r":4,"c":4,"s":"b","x":0.08,"y":0.7},{"r":4,"c":4,"s":"b","x":0.088,"y":0.56},{"r":4,"c":4,"s":"b","x":0.096,"y":0.45},{"r":4,"c":4,"s":"b","x":0.104,"y":0.33},{"r":4,"c":4,"s":"b","x":0.112,"y":0.24},{"r":4,"c":4,"s":"b","x":0.12,"y":0.17},{"r":4,"c":4,"s":"b","x":0.128,"y":0.12},{"r":4,"c":4,"s":"b","x":0.136,"y":0.08},{"r":4,"c":4,"s":"b","x":0.144,"y":0.05},{"r":4,"c":4,"s":"b","x":0.152,"y":0.03},{"r":4,"c":4,"s":"b","x":0.16,"y":0.02},{"r":4,"c":4,"s":"b","x":0.168,"y":0.01},{"r":4,"c":4,"s":"b","x":0.176,"y":0.01},{"r":4,"c":4,"s":"b","x":0.2,"y":0},
{"r":4,"c":4,"s":"r","x":0,"y":2.28},{"r":4,"c":4,"s":"r","x":0.008,"y":1.95},{"r":4,"c":4,"s":"r","x":0.016,"y":1.85},{"r":4,"c":4,"s":"r","x":0.024,"y":1.75},{"r":4,"c":4,"s":"r","x":0.032,"y":1.4},{"r":4,"c":4,"s":"r","x":0.04,"y":1.17},{"r":4,"c":4,"s":"r","x":0.048,"y":1.0},{"r":4,"c":4,"s":"r","x":0.056,"y":0.84},{"r":4,"c":4,"s":"r","x":0.064,"y":0.69},{"r":4,"c":4,"s":"r","x":0.072,"y":0.58},{"r":4,"c":4,"s":"r","x":0.08,"y":0.5},{"r":4,"c":4,"s":"r","x":0.088,"y":0.4},{"r":4,"c":4,"s":"r","x":0.096,"y":0.33},{"r":4,"c":4,"s":"r","x":0.104,"y":0.25},{"r":4,"c":4,"s":"r","x":0.112,"y":0.2},{"r":4,"c":4,"s":"r","x":0.12,"y":0.17},{"r":4,"c":4,"s":"r","x":0.128,"y":0.15},{"r":4,"c":4,"s":"r","x":0.136,"y":0.13},{"r":4,"c":4,"s":"r","x":0.144,"y":0.11},{"r":4,"c":4,"s":"r","x":0.152,"y":0.1},{"r":4,"c":4,"s":"r","x":0.16,"y":0.1},{"r":4,"c":4,"s":"r","x":0.168,"y":0.09},{"r":4,"c":4,"s":"r","x":0.176,"y":0.08},{"r":4,"c":4,"s":"r","x":0.184,"y":0.08},{"r":4,"c":4,"s":"r","x":0.192,"y":0.07},{"r":4,"c":4,"s":"r","x":0.2,"y":0.07},{"r":4,"c":4,"s":"r","x":0.208,"y":0.06},{"r":4,"c":4,"s":"r","x":0.216,"y":0.06},{"r":4,"c":4,"s":"r","x":0.224,"y":0.055},{"r":4,"c":4,"s":"r","x":0.232,"y":0.05},{"r":4,"c":4,"s":"r","x":0.24,"y":0.05},{"r":4,"c":4,"s":"r","x":0.248,"y":0.045},{"r":4,"c":4,"s":"r","x":0.256,"y":0.04},{"r":4,"c":4,"s":"r","x":0.264,"y":0.04},{"r":4,"c":4,"s":"r","x":0.272,"y":0.035},{"r":4,"c":4,"s":"r","x":0.28,"y":0.035},{"r":4,"c":4,"s":"r","x":0.288,"y":0.03},{"r":4,"c":4,"s":"r","x":0.296,"y":0.03},{"r":4,"c":4,"s":"r","x":0.304,"y":0.025},{"r":4,"c":4,"s":"r","x":0.312,"y":0.025},{"r":4,"c":4,"s":"r","x":0.32,"y":0.02},{"r":4,"c":4,"s":"r","x":0.328,"y":0.02},{"r":4,"c":4,"s":"r","x":0.336,"y":0.02},{"r":4,"c":4,"s":"r","x":0.344,"y":0.02},{"r":4,"c":4,"s":"r","x":0.352,"y":0.015},{"r":4,"c":4,"s":"r","x":0.36,"y":0.015},{"r":4,"c":4,"s":"r","x":0.368,"y":0.015},{"r":4,"c":4,"s":"r","x":0.376,"y":0.01},{"r":4,"c":4,"s":"r","x":0.384,"y":0.01},{"r":4,"c":4,"s":"r","x":0.392,"y":0.01},{"r":4,"c":4,"s":"r","x":0.4,"y":0.01},{"r":4,"c":4,"s":"r","x":0.408,"y":0.01},{"r":4,"c":4,"s":"r","x":0.416,"y":0.01},{"r":4,"c":4,"s":"r","x":0.424,"y":0.01},{"r":4,"c":4,"s":"r","x":0.432,"y":0.01},{"r":4,"c":4,"s":"r","x":0.44,"y":0.01},{"r":4,"c":4,"s":"r","x":0.448,"y":0.01},{"r":4,"c":4,"s":"r","x":0.456,"y":0.01},{"r":4,"c":4,"s":"r","x":0.464,"y":0.01},{"r":4,"c":4,"s":"r","x":0.477,"y":0},
{"r":4,"c":5,"s":"m","x":0,"y":7},
{"r":4,"c":5,"s":"b","x":0,"y":4.3},{"r":4,"c":5,"s":"b","x":0.008,"y":0.75},{"r":4,"c":5,"s":"b","x":0.016,"y":0.04},{"r":4,"c":5,"s":"b","x":0.024,"y":0.01},{"r":4,"c":5,"s":"b","x":0.032,"y":0},
{"r":4,"c":5,"s":"r","x":0,"y":6.33},{"r":4,"c":5,"s":"r","x":0.008,"y":0.8},{"r":4,"c":5,"s":"r","x":0.016,"y":0.06},{"r":4,"c":5,"s":"r","x":0.024,"y":0.03},{"r":4,"c":5,"s":"r","x":0.032,"y":0.02},{"r":4,"c":5,"s":"r","x":0.04,"y":0.01},{"r":4,"c":5,"s":"r","x":0.12,"y":0},
{"r":4,"c":6,"s":"m","x":0,"y":6},
{"r":4,"c":6,"s":"b","x":0,"y":3.9},{"r":4,"c":6,"s":"b","x":0.008,"y":0.35},{"r":4,"c":6,"s":"b","x":0.016,"y":0.04},{"r":4,"c":6,"s":"b","x":0.024,"y":0.01},{"r":4,"c":6,"s":"b","x":0.032,"y":0},
{"r":4,"c":6,"s":"r","x":0,"y":5.4},{"r":4,"c":6,"s":"r","x":0.008,"y":0.4},{"r":4,"c":6,"s":"r","x":0.016,"y":0.06},{"r":4,"c":6,"s":"r","x":0.024,"y":0.03},{"r":4,"c":6,"s":"r","x":0.032,"y":0.02},{"r":4,"c":6,"s":"r","x":0.04,"y":0.01},{"r":4,"c":6,"s":"r","x":0.1,"y":0},
{"r":4,"c":7,"s":"m","x":0,"y":6},
{"r":4,"c":7,"s":"b","x":0,"y":4.0},{"r":4,"c":7,"s":"b","x":0.008,"y":0.25},{"r":4,"c":7,"s":"b","x":0.016,"y":0.04},{"r":4,"c":7,"s":"b","x":0.024,"y":0.01},{"r":4,"c":7,"s":"b","x":0.032,"y":0},
{"r":4,"c":7,"s":"r","x":0,"y":5.5},{"r":4,"c":7,"s":"r","x":0.008,"y":0.3},{"r":4,"c":7,"s":"r","x":0.016,"y":0.06},{"r":4,"c":7,"s":"r","x":0.024,"y":0.03},{"r":4,"c":7,"s":"r","x":0.032,"y":0.02},{"r":4,"c":7,"s":"r","x":0.04,"y":0.01},{"r":4,"c":7,"s":"r","x":0.07,"y":0},
{"r":5,"c":1,"s":"m","x":0,"y":7},
{"r":5,"c":1,"s":"b","x":0,"y":3.71},{"r":5,"c":1,"s":"b","x":0.008,"y":0.35},{"r":5,"c":1,"s":"b","x":0.016,"y":0.2},{"r":5,"c":1,"s":"b","x":0.024,"y":0.2},{"r":5,"c":1,"s":"b","x":0.032,"y":0.38},{"r":5,"c":1,"s":"b","x":0.04,"y":0.45},{"r":5,"c":1,"s":"b","x":0.048,"y":0.35},{"r":5,"c":1,"s":"b","x":0.056,"y":0.15},{"r":5,"c":1,"s":"b","x":0.064,"y":0.05},{"r":5,"c":1,"s":"b","x":0.072,"y":0.02},{"r":5,"c":1,"s":"b","x":0.08,"y":0},
{"r":5,"c":1,"s":"r","x":0,"y":6.08},{"r":5,"c":1,"s":"r","x":0.008,"y":0.62},{"r":5,"c":1,"s":"r","x":0.016,"y":0.15},{"r":5,"c":1,"s":"r","x":0.024,"y":0.12},{"r":5,"c":1,"s":"r","x":0.032,"y":0.12},{"r":5,"c":1,"s":"r","x":0.04,"y":0.2},{"r":5,"c":1,"s":"r","x":0.048,"y":0.15},{"r":5,"c":1,"s":"r","x":0.056,"y":0.1},{"r":5,"c":1,"s":"r","x":0.064,"y":0.05},{"r":5,"c":1,"s":"r","x":0.072,"y":0.03},{"r":5,"c":1,"s":"r","x":0.08,"y":0.02},{"r":5,"c":1,"s":"r","x":0.088,"y":0.02},{"r":5,"c":1,"s":"r","x":0.096,"y":0.01},{"r":5,"c":1,"s":"r","x":0.164,"y":0},
{"r":5,"c":2,"s":"m","x":0,"y":7},
{"r":5,"c":2,"s":"b","x":0,"y":3.81},{"r":5,"c":2,"s":"b","x":0.008,"y":0.4},{"r":5,"c":2,"s":"b","x":0.016,"y":0.28},{"r":5,"c":2,"s":"b","x":0.024,"y":0.35},{"r":5,"c":2,"s":"b","x":0.032,"y":0.35},{"r":5,"c":2,"s":"b","x":0.04,"y":0.33},{"r":5,"c":2,"s":"b","x":0.048,"y":0.28},{"r":5,"c":2,"s":"b","x":0.056,"y":0.18},{"r":5,"c":2,"s":"b","x":0.064,"y":0.1},{"r":5,"c":2,"s":"b","x":0.072,"y":0.05},{"r":5,"c":2,"s":"b","x":0.08,"y":0.02},{"r":5,"c":2,"s":"b","x":0.088,"y":0.01},{"r":5,"c":2,"s":"b","x":0.096,"y":0},
{"r":5,"c":2,"s":"r","x":0,"y":6.59},{"r":5,"c":2,"s":"r","x":0.008,"y":0.92},{"r":5,"c":2,"s":"r","x":0.016,"y":0.25},{"r":5,"c":2,"s":"r","x":0.024,"y":0.22},{"r":5,"c":2,"s":"r","x":0.032,"y":0.22},{"r":5,"c":2,"s":"r","x":0.04,"y":0.22},{"r":5,"c":2,"s":"r","x":0.048,"y":0.2},{"r":5,"c":2,"s":"r","x":0.056,"y":0.15},{"r":5,"c":2,"s":"r","x":0.064,"y":0.1},{"r":5,"c":2,"s":"r","x":0.072,"y":0.07},{"r":5,"c":2,"s":"r","x":0.08,"y":0.05},{"r":5,"c":2,"s":"r","x":0.088,"y":0.04},{"r":5,"c":2,"s":"r","x":0.096,"y":0.03},{"r":5,"c":2,"s":"r","x":0.104,"y":0.02},{"r":5,"c":2,"s":"r","x":0.112,"y":0.02},{"r":5,"c":2,"s":"r","x":0.12,"y":0.01},{"r":5,"c":2,"s":"r","x":0.19,"y":0},
{"r":5,"c":3,"s":"m","x":0,"y":8},
{"r":5,"c":3,"s":"b","x":0,"y":4.1},{"r":5,"c":3,"s":"b","x":0.008,"y":0.37},{"r":5,"c":3,"s":"b","x":0.016,"y":0.17},{"r":5,"c":3,"s":"b","x":0.024,"y":0.16},{"r":5,"c":3,"s":"b","x":0.032,"y":0.15},{"r":5,"c":3,"s":"b","x":0.04,"y":0.13},{"r":5,"c":3,"s":"b","x":0.048,"y":0.11},{"r":5,"c":3,"s":"b","x":0.056,"y":0.09},{"r":5,"c":3,"s":"b","x":0.064,"y":0.07},{"r":5,"c":3,"s":"b","x":0.072,"y":0.05},{"r":5,"c":3,"s":"b","x":0.08,"y":0.04},{"r":5,"c":3,"s":"b","x":0.088,"y":0.03},{"r":5,"c":3,"s":"b","x":0.096,"y":0.02},{"r":5,"c":3,"s":"b","x":0.104,"y":0.01},{"r":5,"c":3,"s":"b","x":0.12,"y":0},
{"r":5,"c":3,"s":"r","x":0,"y":6.69},{"r":5,"c":3,"s":"r","x":0.008,"y":1.16},{"r":5,"c":3,"s":"r","x":0.016,"y":0.35},{"r":5,"c":3,"s":"r","x":0.024,"y":0.28},{"r":5,"c":3,"s":"r","x":0.032,"y":0.25},{"r":5,"c":3,"s":"r","x":0.04,"y":0.22},{"r":5,"c":3,"s":"r","x":0.048,"y":0.2},{"r":5,"c":3,"s":"r","x":0.056,"y":0.17},{"r":5,"c":3,"s":"r","x":0.064,"y":0.15},{"r":5,"c":3,"s":"r","x":0.072,"y":0.12},{"r":5,"c":3,"s":"r","x":0.08,"y":0.1},{"r":5,"c":3,"s":"r","x":0.088,"y":0.08},{"r":5,"c":3,"s":"r","x":0.096,"y":0.06},{"r":5,"c":3,"s":"r","x":0.104,"y":0.05},{"r":5,"c":3,"s":"r","x":0.112,"y":0.04},{"r":5,"c":3,"s":"r","x":0.12,"y":0.03},{"r":5,"c":3,"s":"r","x":0.128,"y":0.025},{"r":5,"c":3,"s":"r","x":0.136,"y":0.02},{"r":5,"c":3,"s":"r","x":0.144,"y":0.015},{"r":5,"c":3,"s":"r","x":0.152,"y":0.01},{"r":5,"c":3,"s":"r","x":0.23,"y":0},
{"r":5,"c":4,"s":"m","x":0,"y":8},
{"r":5,"c":4,"s":"b","x":0,"y":4.21},{"r":5,"c":4,"s":"b","x":0.008,"y":0.33},{"r":5,"c":4,"s":"b","x":0.016,"y":0.1},{"r":5,"c":4,"s":"b","x":0.024,"y":0.08},{"r":5,"c":4,"s":"b","x":0.032,"y":0.06},{"r":5,"c":4,"s":"b","x":0.04,"y":0.05},{"r":5,"c":4,"s":"b","x":0.048,"y":0.03},{"r":5,"c":4,"s":"b","x":0.056,"y":0.02},{"r":5,"c":4,"s":"b","x":0.064,"y":0.01},{"r":5,"c":4,"s":"b","x":0.08,"y":0},
{"r":5,"c":4,"s":"r","x":0,"y":6.69},{"r":5,"c":4,"s":"r","x":0.008,"y":1.03},{"r":5,"c":4,"s":"r","x":0.016,"y":0.28},{"r":5,"c":4,"s":"r","x":0.024,"y":0.22},{"r":5,"c":4,"s":"r","x":0.032,"y":0.18},{"r":5,"c":4,"s":"r","x":0.04,"y":0.15},{"r":5,"c":4,"s":"r","x":0.048,"y":0.12},{"r":5,"c":4,"s":"r","x":0.056,"y":0.1},{"r":5,"c":4,"s":"r","x":0.064,"y":0.08},{"r":5,"c":4,"s":"r","x":0.072,"y":0.06},{"r":5,"c":4,"s":"r","x":0.08,"y":0.05},{"r":5,"c":4,"s":"r","x":0.088,"y":0.04},{"r":5,"c":4,"s":"r","x":0.096,"y":0.03},{"r":5,"c":4,"s":"r","x":0.104,"y":0.025},{"r":5,"c":4,"s":"r","x":0.112,"y":0.02},{"r":5,"c":4,"s":"r","x":0.12,"y":0.015},{"r":5,"c":4,"s":"r","x":0.128,"y":0.01},{"r":5,"c":4,"s":"r","x":0.19,"y":0},
{"r":5,"c":5,"s":"m","x":0,"y":7},
{"r":5,"c":5,"s":"b","x":0,"y":4.2},{"r":5,"c":5,"s":"b","x":0.008,"y":0.6},{"r":5,"c":5,"s":"b","x":0.016,"y":0.04},{"r":5,"c":5,"s":"b","x":0.024,"y":0.01},{"r":5,"c":5,"s":"b","x":0.032,"y":0},
{"r":5,"c":5,"s":"r","x":0,"y":6.12},{"r":5,"c":5,"s":"r","x":0.008,"y":0.6},{"r":5,"c":5,"s":"r","x":0.016,"y":0.06},{"r":5,"c":5,"s":"r","x":0.024,"y":0.03},{"r":5,"c":5,"s":"r","x":0.032,"y":0.02},{"r":5,"c":5,"s":"r","x":0.04,"y":0.01},{"r":5,"c":5,"s":"r","x":0.12,"y":0},
{"r":5,"c":6,"s":"m","x":0,"y":6},
{"r":5,"c":6,"s":"b","x":0,"y":3.9},{"r":5,"c":6,"s":"b","x":0.008,"y":0.3},{"r":5,"c":6,"s":"b","x":0.016,"y":0.04},{"r":5,"c":6,"s":"b","x":0.024,"y":0.01},{"r":5,"c":6,"s":"b","x":0.032,"y":0},
{"r":5,"c":6,"s":"r","x":0,"y":5.35},{"r":5,"c":6,"s":"r","x":0.008,"y":0.35},{"r":5,"c":6,"s":"r","x":0.016,"y":0.06},{"r":5,"c":6,"s":"r","x":0.024,"y":0.03},{"r":5,"c":6,"s":"r","x":0.032,"y":0.02},{"r":5,"c":6,"s":"r","x":0.04,"y":0.01},{"r":5,"c":6,"s":"r","x":0.08,"y":0},
{"r":5,"c":7,"s":"m","x":0,"y":6},
{"r":5,"c":7,"s":"b","x":0,"y":3.7},{"r":5,"c":7,"s":"b","x":0.008,"y":0.2},{"r":5,"c":7,"s":"b","x":0.016,"y":0.04},{"r":5,"c":7,"s":"b","x":0.024,"y":0.01},{"r":5,"c":7,"s":"b","x":0.032,"y":0},
{"r":5,"c":7,"s":"r","x":0,"y":4.8},{"r":5,"c":7,"s":"r","x":0.008,"y":0.25},{"r":5,"c":7,"s":"r","x":0.016,"y":0.06},{"r":5,"c":7,"s":"r","x":0.024,"y":0.03},{"r":5,"c":7,"s":"r","x":0.032,"y":0.02},{"r":5,"c":7,"s":"r","x":0.04,"y":0.01},{"r":5,"c":7,"s":"r","x":0.06,"y":0},
{"r":6,"c":1,"s":"m","x":0,"y":6},
{"r":6,"c":1,"s":"b","x":0,"y":3.9},{"r":6,"c":1,"s":"b","x":0.008,"y":0.35},{"r":6,"c":1,"s":"b","x":0.016,"y":0.04},{"r":6,"c":1,"s":"b","x":0.024,"y":0.01},{"r":6,"c":1,"s":"b","x":0.032,"y":0},
{"r":6,"c":1,"s":"r","x":0,"y":5.45},{"r":6,"c":1,"s":"r","x":0.008,"y":0.35},{"r":6,"c":1,"s":"r","x":0.016,"y":0.06},{"r":6,"c":1,"s":"r","x":0.024,"y":0.03},{"r":6,"c":1,"s":"r","x":0.032,"y":0.02},{"r":6,"c":1,"s":"r","x":0.04,"y":0.01},{"r":6,"c":1,"s":"r","x":0.06,"y":0},
{"r":6,"c":2,"s":"m","x":0,"y":7},
{"r":6,"c":2,"s":"b","x":0,"y":4.1},{"r":6,"c":2,"s":"b","x":0.008,"y":0.4},{"r":6,"c":2,"s":"b","x":0.016,"y":0.04},{"r":6,"c":2,"s":"b","x":0.024,"y":0.01},{"r":6,"c":2,"s":"b","x":0.032,"y":0},
{"r":6,"c":2,"s":"r","x":0,"y":6.05},{"r":6,"c":2,"s":"r","x":0.008,"y":0.4},{"r":6,"c":2,"s":"r","x":0.016,"y":0.06},{"r":6,"c":2,"s":"r","x":0.024,"y":0.03},{"r":6,"c":2,"s":"r","x":0.032,"y":0.02},{"r":6,"c":2,"s":"r","x":0.04,"y":0.01},{"r":6,"c":2,"s":"r","x":0.06,"y":0},
{"r":6,"c":3,"s":"m","x":0,"y":7},
{"r":6,"c":3,"s":"b","x":0,"y":4.2},{"r":6,"c":3,"s":"b","x":0.008,"y":0.4},{"r":6,"c":3,"s":"b","x":0.016,"y":0.04},{"r":6,"c":3,"s":"b","x":0.024,"y":0.01},{"r":6,"c":3,"s":"b","x":0.032,"y":0},
{"r":6,"c":3,"s":"r","x":0,"y":6.14},{"r":6,"c":3,"s":"r","x":0.008,"y":0.4},{"r":6,"c":3,"s":"r","x":0.016,"y":0.06},{"r":6,"c":3,"s":"r","x":0.024,"y":0.03},{"r":6,"c":3,"s":"r","x":0.032,"y":0.02},{"r":6,"c":3,"s":"r","x":0.04,"y":0.01},{"r":6,"c":3,"s":"r","x":0.07,"y":0},
{"r":6,"c":4,"s":"m","x":0,"y":7},
{"r":6,"c":4,"s":"b","x":0,"y":4.2},{"r":6,"c":4,"s":"b","x":0.008,"y":0.4},{"r":6,"c":4,"s":"b","x":0.016,"y":0.04},{"r":6,"c":4,"s":"b","x":0.024,"y":0.01},{"r":6,"c":4,"s":"b","x":0.032,"y":0},
{"r":6,"c":4,"s":"r","x":0,"y":6.1},{"r":6,"c":4,"s":"r","x":0.008,"y":0.4},{"r":6,"c":4,"s":"r","x":0.016,"y":0.06},{"r":6,"c":4,"s":"r","x":0.024,"y":0.03},{"r":6,"c":4,"s":"r","x":0.032,"y":0.02},{"r":6,"c":4,"s":"r","x":0.04,"y":0.01},{"r":6,"c":4,"s":"r","x":0.06,"y":0},
{"r":6,"c":5,"s":"m","x":0,"y":6},
{"r":6,"c":5,"s":"b","x":0,"y":3.9},{"r":6,"c":5,"s":"b","x":0.008,"y":0.35},{"r":6,"c":5,"s":"b","x":0.016,"y":0.04},{"r":6,"c":5,"s":"b","x":0.024,"y":0.01},{"r":6,"c":5,"s":"b","x":0.032,"y":0},
{"r":6,"c":5,"s":"r","x":0,"y":5.5},{"r":6,"c":5,"s":"r","x":0.008,"y":0.35},{"r":6,"c":5,"s":"r","x":0.016,"y":0.06},{"r":6,"c":5,"s":"r","x":0.024,"y":0.03},{"r":6,"c":5,"s":"r","x":0.032,"y":0.02},{"r":6,"c":5,"s":"r","x":0.04,"y":0.01},{"r":6,"c":5,"s":"r","x":0.06,"y":0},
{"r":6,"c":6,"s":"m","x":0,"y":6},
{"r":6,"c":6,"s":"b","x":0,"y":3.7},{"r":6,"c":6,"s":"b","x":0.008,"y":0.25},{"r":6,"c":6,"s":"b","x":0.016,"y":0.04},{"r":6,"c":6,"s":"b","x":0.024,"y":0.01},{"r":6,"c":6,"s":"b","x":0.032,"y":0},
{"r":6,"c":6,"s":"r","x":0,"y":5.0},{"r":6,"c":6,"s":"r","x":0.008,"y":0.3},{"r":6,"c":6,"s":"r","x":0.016,"y":0.06},{"r":6,"c":6,"s":"r","x":0.024,"y":0.03},{"r":6,"c":6,"s":"r","x":0.032,"y":0.02},{"r":6,"c":6,"s":"r","x":0.04,"y":0.01},{"r":6,"c":6,"s":"r","x":0.05,"y":0},
{"r":6,"c":7,"s":"m","x":0,"y":5},
{"r":6,"c":7,"s":"b","x":0,"y":3.5},{"r":6,"c":7,"s":"b","x":0.008,"y":0.2},{"r":6,"c":7,"s":"b","x":0.016,"y":0.04},{"r":6,"c":7,"s":"b","x":0.024,"y":0.01},{"r":6,"c":7,"s":"b","x":0.032,"y":0},
{"r":6,"c":7,"s":"r","x":0,"y":4.6},{"r":6,"c":7,"s":"r","x":0.008,"y":0.25},{"r":6,"c":7,"s":"r","x":0.016,"y":0.06},{"r":6,"c":7,"s":"r","x":0.024,"y":0.03},{"r":6,"c":7,"s":"r","x":0.032,"y":0.02},{"r":6,"c":7,"s":"r","x":0.04,"y":0.01},{"r":6,"c":7,"s":"r","x":0.045,"y":0},
{"r":7,"c":1,"s":"m","x":0,"y":6},
{"r":7,"c":1,"s":"b","x":0,"y":3.7},{"r":7,"c":1,"s":"b","x":0.008,"y":0.25},{"r":7,"c":1,"s":"b","x":0.016,"y":0.04},{"r":7,"c":1,"s":"b","x":0.024,"y":0.01},{"r":7,"c":1,"s":"b","x":0.032,"y":0},
{"r":7,"c":1,"s":"r","x":0,"y":5.0},{"r":7,"c":1,"s":"r","x":0.008,"y":0.3},{"r":7,"c":1,"s":"r","x":0.016,"y":0.06},{"r":7,"c":1,"s":"r","x":0.024,"y":0.03},{"r":7,"c":1,"s":"r","x":0.032,"y":0.02},{"r":7,"c":1,"s":"r","x":0.04,"y":0.01},{"r":7,"c":1,"s":"r","x":0.056,"y":0},
{"r":7,"c":2,"s":"m","x":0,"y":6},
{"r":7,"c":2,"s":"b","x":0,"y":3.8},{"r":7,"c":2,"s":"b","x":0.008,"y":0.25},{"r":7,"c":2,"s":"b","x":0.016,"y":0.04},{"r":7,"c":2,"s":"b","x":0.024,"y":0.01},{"r":7,"c":2,"s":"b","x":0.032,"y":0},
{"r":7,"c":2,"s":"r","x":0,"y":5.2},{"r":7,"c":2,"s":"r","x":0.008,"y":0.3},{"r":7,"c":2,"s":"r","x":0.016,"y":0.06},{"r":7,"c":2,"s":"r","x":0.024,"y":0.03},{"r":7,"c":2,"s":"r","x":0.032,"y":0.02},{"r":7,"c":2,"s":"r","x":0.04,"y":0.01},{"r":7,"c":2,"s":"r","x":0.07,"y":0},
{"r":7,"c":3,"s":"m","x":0,"y":6},
{"r":7,"c":3,"s":"b","x":0,"y":3.9},{"r":7,"c":3,"s":"b","x":0.008,"y":0.25},{"r":7,"c":3,"s":"b","x":0.016,"y":0.04},{"r":7,"c":3,"s":"b","x":0.024,"y":0.01},{"r":7,"c":3,"s":"b","x":0.032,"y":0},
{"r":7,"c":3,"s":"r","x":0,"y":5.3},{"r":7,"c":3,"s":"r","x":0.008,"y":0.3},{"r":7,"c":3,"s":"r","x":0.016,"y":0.06},{"r":7,"c":3,"s":"r","x":0.024,"y":0.03},{"r":7,"c":3,"s":"r","x":0.032,"y":0.02},{"r":7,"c":3,"s":"r","x":0.04,"y":0.01},{"r":7,"c":3,"s":"r","x":0.06,"y":0},
{"r":7,"c":4,"s":"m","x":0,"y":6},
{"r":7,"c":4,"s":"b","x":0,"y":3.8},{"r":7,"c":4,"s":"b","x":0.008,"y":0.3},{"r":7,"c":4,"s":"b","x":0.016,"y":0.04},{"r":7,"c":4,"s":"b","x":0.024,"y":0.01},{"r":7,"c":4,"s":"b","x":0.032,"y":0},
{"r":7,"c":4,"s":"r","x":0,"y":5.2},{"r":7,"c":4,"s":"r","x":0.008,"y":0.3},{"r":7,"c":4,"s":"r","x":0.016,"y":0.06},{"r":7,"c":4,"s":"r","x":0.024,"y":0.03},{"r":7,"c":4,"s":"r","x":0.032,"y":0.02},{"r":7,"c":4,"s":"r","x":0.04,"y":0.01},{"r":7,"c":4,"s":"r","x":0.06,"y":0},
{"r":7,"c":5,"s":"m","x":0,"y":6},
{"r":7,"c":5,"s":"b","x":0,"y":3.7},{"r":7,"c":5,"s":"b","x":0.008,"y":0.25},{"r":7,"c":5,"s":"b","x":0.016,"y":0.04},{"r":7,"c":5,"s":"b","x":0.024,"y":0.01},{"r":7,"c":5,"s":"b","x":0.032,"y":0},
{"r":7,"c":5,"s":"r","x":0,"y":5.06},{"r":7,"c":5,"s":"r","x":0.008,"y":0.25},{"r":7,"c":5,"s":"r","x":0.016,"y":0.06},{"r":7,"c":5,"s":"r","x":0.024,"y":0.03},{"r":7,"c":5,"s":"r","x":0.032,"y":0.02},{"r":7,"c":5,"s":"r","x":0.04,"y":0.01},{"r":7,"c":5,"s":"r","x":0.05,"y":0},
{"r":7,"c":6,"s":"m","x":0,"y":5},
{"r":7,"c":6,"s":"b","x":0,"y":3.6},{"r":7,"c":6,"s":"b","x":0.008,"y":0.2},{"r":7,"c":6,"s":"b","x":0.016,"y":0.04},{"r":7,"c":6,"s":"b","x":0.024,"y":0.01},{"r":7,"c":6,"s":"b","x":0.032,"y":0},
{"r":7,"c":6,"s":"r","x":0,"y":4.83},{"r":7,"c":6,"s":"r","x":0.008,"y":0.25},{"r":7,"c":6,"s":"r","x":0.016,"y":0.06},{"r":7,"c":6,"s":"r","x":0.024,"y":0.03},{"r":7,"c":6,"s":"r","x":0.032,"y":0.02},{"r":7,"c":6,"s":"r","x":0.04,"y":0.01},{"r":7,"c":6,"s":"r","x":0.05,"y":0},
{"r":7,"c":7,"s":"m","x":0,"y":5},
{"r":7,"c":7,"s":"b","x":0,"y":3.5},{"r":7,"c":7,"s":"b","x":0.008,"y":0.15},{"r":7,"c":7,"s":"b","x":0.016,"y":0.04},{"r":7,"c":7,"s":"b","x":0.024,"y":0.01},{"r":7,"c":7,"s":"b","x":0.032,"y":0},
{"r":7,"c":7,"s":"r","x":0,"y":4.53},{"r":7,"c":7,"s":"r","x":0.008,"y":0.2},{"r":7,"c":7,"s":"r","x":0.016,"y":0.06},{"r":7,"c":7,"s":"r","x":0.024,"y":0.03},{"r":7,"c":7,"s":"r","x":0.032,"y":0.02},{"r":7,"c":7,"s":"r","x":0.04,"y":0.01},{"r":7,"c":7,"s":"r","x":0.05,"y":0}
]},
"facet":{
 "row":{"field":"r","type":"ordinal","header":{"labels":false,"title":"Candidates / (0.008 GeV)","titleFont":"DejaVu Sans","titleFontSize":24,"titleFontWeight":"normal","titleColor":"#000000","titlePadding":12}},
 "column":{"field":"c","type":"ordinal","header":{"labels":false,"title":"Extrapolated Energy (GeV)","titleOrient":"bottom","titleFont":"Open Sans","titleFontSize":93,"titleFontWeight":300,"titleColor":"#000000","titlePadding":15}}
},
"spacing":{"row":23,"column":52},
"bounds":"flush",
"resolve":{"scale":{"y":"independent"}},
"spec":{
 "width":258,"height":275,
 "layer":[
  {
   "encoding":{
    "x":{"field":"x","type":"quantitative","scale":{"domain":[0,0.8],"nice":false,"zero":false},
         "axis":{"title":null,"values":[0,0.05,0.1,0.15,0.2,0.25,0.3,0.35,0.4,0.45,0.5,0.55,0.6,0.65,0.7,0.75,0.8],
                 "labelExpr":"round(datum.value*100)%20==0 ? format(datum.value,'.1f') : ''",
                 "tickSize":{"condition":{"test":"round(datum.value*100)%20==0","value":-7},"value":-3.5},"labelPadding":12}},
    "y":{"field":"y","type":"quantitative","scale":{"nice":false,"zero":true},
         "axis":{"title":"×10⁴","titleAngle":0,"titleAlign":"left","titleBaseline":"alphabetic","titleX":1,"titleY":-3,"titleFontSize":10.5,"titleFontWeight":"normal","titleFont":"DejaVu Sans","titleColor":"#262626","tickCount":7,"tickSize":-7,"labelPadding":12}}
   },
   "layer":[
    {"transform":[{"filter":"datum.s=='m'"}],"mark":{"type":"point","opacity":0}},
    {"transform":[{"filter":"datum.s=='b'"}],"mark":{"type":"line","interpolate":"step-after","color":"#0000ff","strokeWidth":1,"opacity":0.9}},
    {"transform":[{"filter":"datum.s=='r'"}],"mark":{"type":"line","interpolate":"step-after","color":"#ff0000","strokeWidth":1,"opacity":0.9}}
   ]
  },
  {
   "transform":[{"filter":"datum.s=='m'"}],
   "mark":{"type":"point","opacity":0},
   "encoding":{
    "y":{"field":"y","type":"quantitative","axis":{"orient":"left","title":null,"labels":false,"tickCount":35,"tickSize":-3.5}}
   }
  }
 ],
 "resolve":{"axis":{"y":"independent"}}
},
"config":{
 "view":{"stroke":"#3c3c3c","strokeWidth":1.2},
 "axis":{"domain":false,"grid":false,"labelFont":"DejaVu Sans","labelFontSize":15.5,"labelColor":"#262626","tickColor":"#3c3c3c","labelFlush":false,"labelOverlap":false,"labelBound":false}
}
}
